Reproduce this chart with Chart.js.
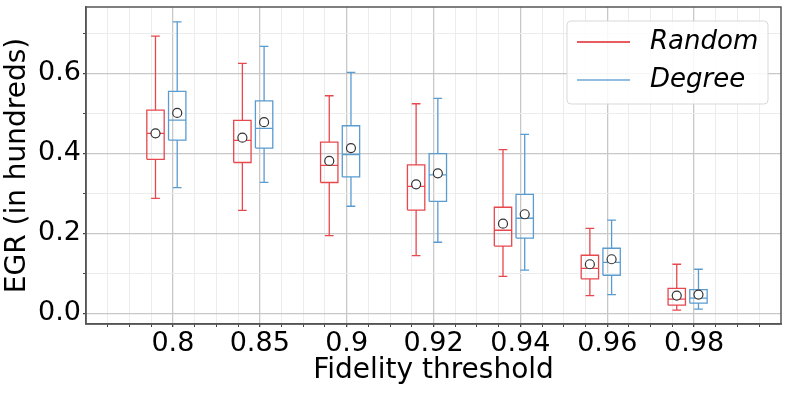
<!DOCTYPE html>
<html>
<head>
<meta charset="utf-8">
<script src="https://cdn.jsdelivr.net/npm/chart.js@4/dist/chart.umd.min.js"></script>
<style>
  html, body { margin: 0; padding: 0; background: #fff; }
  #wrap { width: 789px; height: 395px; }
</style>
</head>
<body>
<div id="wrap"><canvas id="egr"></canvas></div>
<script>
// fidelity thresholds on the x axis
const categories = ['0.8', '0.85', '0.9', '0.92', '0.94', '0.96', '0.98'];

// Random selection box stats
const randomMax    = [0.693, 0.625, 0.544, 0.524, 0.409, 0.212, 0.1225];
const randomQ3     = [0.508, 0.4825, 0.428, 0.371, 0.265, 0.145, 0.062];
const randomMedian = [0.450, 0.4325, 0.370, 0.3175, 0.2075, 0.112, 0.035];
const randomMean   = [0.450, 0.439, 0.381, 0.3225, 0.224, 0.1225, 0.044];
const randomQ1     = [0.385, 0.377, 0.327, 0.258, 0.168, 0.086, 0.020];
const randomMin    = [0.2875, 0.257, 0.194, 0.144, 0.092, 0.044, 0.0075];

// Degree selection box stats
const degreeMax    = [0.729, 0.6675, 0.6025, 0.5375, 0.4475, 0.233, 0.110];
const degreeQ3     = [0.555, 0.531, 0.469, 0.399, 0.2975, 0.1625, 0.059];
const degreeMedian = [0.483, 0.4625, 0.397, 0.346, 0.2375, 0.127, 0.0375];
const degreeMean   = [0.501, 0.478, 0.413, 0.350, 0.2475, 0.135, 0.0467];
const degreeQ1     = [0.433, 0.413, 0.341, 0.280, 0.188, 0.095, 0.025];
const degreeMin    = [0.314, 0.3275, 0.2675, 0.1775, 0.108, 0.0467, 0.010];

const yTicks = [0.0, 0.2, 0.4, 0.6];

const FONT = "'DejaVu Sans', sans-serif";
const RED = '#e8474d';
const BLUE = '#5a9bd0';
const boxW = 0.2, capW = 0.1;

function isMult(v, step) {
  return Math.abs(v / step - Math.round(v / step)) < 1e-6;
}

// outline of boxes, medians, whiskers and caps as one broken polyline
function boxPoints(offset, lo, q1, med, q3, hi) {
  const pts = [];
  categories.forEach(function(c, i) {
    const x = i + 1 + offset, l = x - boxW / 2, r = x + boxW / 2;
    const gap = {x: x, y: null};
    pts.push({x: l, y: q1[i]}, {x: r, y: q1[i]}, {x: r, y: q3[i]}, {x: l, y: q3[i]}, {x: l, y: q1[i]}, gap);
    pts.push({x: l, y: med[i]}, {x: r, y: med[i]}, gap);
    pts.push({x: x, y: q3[i]}, {x: x, y: hi[i]}, gap);
    pts.push({x: x, y: q1[i]}, {x: x, y: lo[i]}, gap);
    pts.push({x: x - capW / 2, y: hi[i]}, {x: x + capW / 2, y: hi[i]}, gap);
    pts.push({x: x - capW / 2, y: lo[i]}, {x: x + capW / 2, y: lo[i]}, gap);
  });
  return pts;
}

function meanPoints(offset, mean) {
  return categories.map(function(c, i) { return {x: i + 1 + offset, y: mean[i]}; });
}

const framePlugin = {
  id: 'frame',
  afterDraw: function(chart) {
    const a = chart.chartArea, ctx = chart.ctx;
    ctx.save();
    // legend
    const lx = a.right - 214, ly = a.top + 14, lw = 201, lh = 83;
    ctx.fillStyle = 'rgba(255,255,255,0.85)';
    ctx.strokeStyle = '#d9d9d9';
    ctx.lineWidth = 1;
    ctx.beginPath();
    ctx.roundRect(lx, ly, lw, lh, 4);
    ctx.fill();
    ctx.stroke();
    ctx.lineWidth = 1.5;
    ctx.strokeStyle = '#e0242a';
    ctx.beginPath(); ctx.moveTo(lx + 10, ly + 21); ctx.lineTo(lx + 63, ly + 21); ctx.stroke();
    ctx.strokeStyle = '#6ea6d6';
    ctx.beginPath(); ctx.moveTo(lx + 10, ly + 59); ctx.lineTo(lx + 63, ly + 59); ctx.stroke();
    ctx.fillStyle = '#000';
    ctx.font = 'italic 26px ' + FONT;
    ctx.textBaseline = 'middle';
    ctx.fillText('Random', lx + 83, ly + 21);
    ctx.fillText('Degree', lx + 83, ly + 59);
    // axes frame
    ctx.strokeStyle = '#555';
    ctx.lineWidth = 1.5;
    ctx.strokeRect(a.left, a.top, a.right - a.left, a.bottom - a.top);
    ctx.restore();
  }
};

const ctx = document.getElementById('egr').getContext('2d');
const myChart = new Chart(ctx, {
  type: 'scatter',
  data: {
    datasets: [
      {label: 'Random mean', data: meanPoints(-0.2, randomMean), order: 0,
       pointRadius: 4.5, pointBackgroundColor: '#fff', pointBorderColor: '#333', pointBorderWidth: 1.2},
      {label: 'Degree mean', data: meanPoints(0.05, degreeMean), order: 0,
       pointRadius: 4.5, pointBackgroundColor: '#fff', pointBorderColor: '#333', pointBorderWidth: 1.2},
      {label: 'Random', data: boxPoints(-0.2, randomMin, randomQ1, randomMedian, randomQ3, randomMax), order: 1,
       showLine: true, spanGaps: false, pointRadius: 0, borderColor: RED, borderWidth: 1.3},
      {label: 'Degree', data: boxPoints(0.05, degreeMin, degreeQ1, degreeMedian, degreeQ3, degreeMax), order: 1,
       showLine: true, spanGaps: false, pointRadius: 0, borderColor: BLUE, borderWidth: 1.3}
    ]
  },
  options: {
    responsive: true,
    maintainAspectRatio: false,
    animation: false,
    layout: {padding: {top: 7, right: 8, left: 0, bottom: 0}},
    plugins: {legend: {display: false}, tooltip: {enabled: false}},
    scales: {
      x: {
        type: 'linear', min: 0, max: 8,
        afterBuildTicks: function(axis) {
          const t = [];
          for (let v = 0.25; v < 8; v += 0.25) t.push({value: v});
          axis.ticks = t;
        },
        afterFit: function(axis) {
          axis.height = 71;
          axis.paddingLeft = 0;
          axis.paddingRight = 0;
        },
        grid: {
          color: function(c) { return c.tick && isMult(c.tick.value, 1) ? '#c8c8c8' : '#ececec'; },
          lineWidth: function(c) { return c.tick && isMult(c.tick.value, 1) ? 1.3 : 1; },
          tickColor: '#444', tickLength: 3
        },
        border: {display: true, color: '#555', width: 1.5},
        ticks: {
          autoSkip: false, maxRotation: 0, padding: 1, color: '#000',
          font: {family: FONT, size: 27},
          callback: function(v) { return isMult(v, 1) && v >= 1 && v <= 7 ? categories[Math.round(v) - 1] : ''; }
        },
        title: {display: true, text: 'Fidelity threshold', color: '#000',
                font: {family: FONT, size: 28}, padding: {top: 0, bottom: 7}}
      },
      y: {
        type: 'linear', min: -0.027, max: 0.766,
        afterBuildTicks: function(axis) {
          const t = [];
          for (let k = 0; k <= 15; k++) t.push({value: k * 0.05});
          axis.ticks = t;
        },
        afterFit: function(axis) {
          axis.width = 86;
          axis.paddingTop = 0;
          axis.paddingBottom = 0;
        },
        grid: {
          color: function(c) { return c.tick && isMult(c.tick.value, 0.2) ? '#c8c8c8' : '#ececec'; },
          lineWidth: function(c) { return c.tick && isMult(c.tick.value, 0.2) ? 1.3 : 1; },
          tickColor: '#444', tickLength: 3
        },
        border: {display: true, color: '#555', width: 1.5},
        ticks: {
          padding: 2, color: '#000',
          font: {family: FONT, size: 27},
          callback: function(v) {
            const hit = yTicks.find(function(t) { return Math.abs(t - v) < 1e-6; });
            return hit === undefined ? '' : hit.toFixed(1);
          }
        },
        title: {display: true, text: 'EGR (in hundreds)', color: '#000',
                font: {family: FONT, size: 28}, padding: {top: 1, bottom: 0}}
      }
    }
  },
  plugins: [framePlugin]
});
</script>
</body>
</html>
